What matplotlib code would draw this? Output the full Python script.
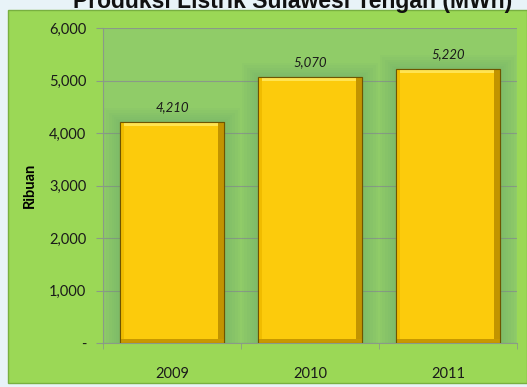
import matplotlib
matplotlib.use("Agg")
import matplotlib.pyplot as plt
from matplotlib.patches import Rectangle
from matplotlib.ticker import FuncFormatter

years = ["2009", "2010", "2011"]
produksi = [4210, 5070, 5220]   # ribuan MWh
yticks = [0, 1000, 2000, 3000, 4000, 5000, 6000]

fig = plt.figure(figsize=(5.27, 3.87), dpi=100)
fig.patch.set_facecolor("#e8f3f8")

# area grafik hijau
fig.patches.append(Rectangle((0.015, 0.01), 0.985, 0.964, transform=fig.transFigure,
                             facecolor="#9bd856", edgecolor="#78b040", lw=1.0, zorder=-10))

ax = fig.add_axes([0.1954, 0.1137, 0.7856, 0.8139])
ax.set_facecolor("#90cc68")

x = list(range(len(years)))
w = 0.75

# bayangan lembut di sekitar batang
for k in [0.12, 0.10, 0.08, 0.06, 0.045, 0.03, 0.015]:
    ax.bar(x, [v + 2200 * k for v in produksi], width=w + k * 2, color="#6aa868",
           alpha=0.07, zorder=1, linewidth=0)

ax.bar(x, produksi, width=w, color="#fccb0c", edgecolor="#8a6a00", linewidth=0.8, zorder=3)
# bevel: atas terang, kanan & bawah gelap
bev = 85
ax.bar(x, bev, bottom=[v - bev for v in produksi], width=w, color="#ffe452",
       linewidth=0, zorder=4)
ax.bar([i + w / 2 - 0.022 for i in x], produksi, width=0.044, color="#c29400",
       linewidth=0, zorder=4)
ax.bar([i - w / 2 + 0.015 for i in x], produksi, width=0.03, color="#f0bc00",
       linewidth=0, zorder=4)
ax.bar(x, bev, width=w, color="#c89800", linewidth=0, zorder=4)
ax.bar(x, produksi, width=w, fill=False, edgecolor="#6e5500", linewidth=0.8, zorder=5)

for i, v in zip(x, produksi):
    ax.text(i, v + 160, f"{v:,}", ha="center", va="bottom", fontsize=9.5,
            style="italic", family="Lato", color="#1a1a1a", zorder=6)

ax.set_xlim(-0.5, 2.5)
ax.set_ylim(0, 6000)
ax.set_yticks(yticks)
ax.yaxis.set_major_formatter(FuncFormatter(lambda v, p: "-" if v == 0 else f"{int(v):,}"))
ax.set_xticks(x)
ax.set_xticklabels(years)
ax.set_xticks([-0.5, 0.5, 1.5, 2.5], minor=True)
ax.tick_params(axis="x", which="major", length=0, pad=17)
ax.tick_params(axis="x", which="minor", length=4, color="#8a9a88")
ax.tick_params(axis="y", length=5, color="#8a9a88", pad=7)
for lab in ax.get_xticklabels() + ax.get_yticklabels():
    lab.set_fontfamily("Lato")
    lab.set_fontsize(10.5)
    lab.set_color("#1a1a1a")

ax.grid(axis="y", color="#8a9a88", lw=0.8, zorder=0)
ax.set_axisbelow(True)
for s in ["top", "right"]:
    ax.spines[s].set_visible(False)
ax.spines["left"].set_color("#8a9a88")
ax.spines["bottom"].set_color("#8a9a88")

ax.set_ylabel("Ribuan", fontsize=10.5, fontweight="bold", family="Lato", labelpad=9)

fig.text(0.555, 0.979, "Produksi Listrik Sulawesi Tengah (MWh)", ha="center", va="baseline",
         fontsize=16.5, fontweight="bold", family="Liberation Sans", color="#111111")

fig.savefig("out.png", dpi=100, facecolor=fig.get_facecolor())
